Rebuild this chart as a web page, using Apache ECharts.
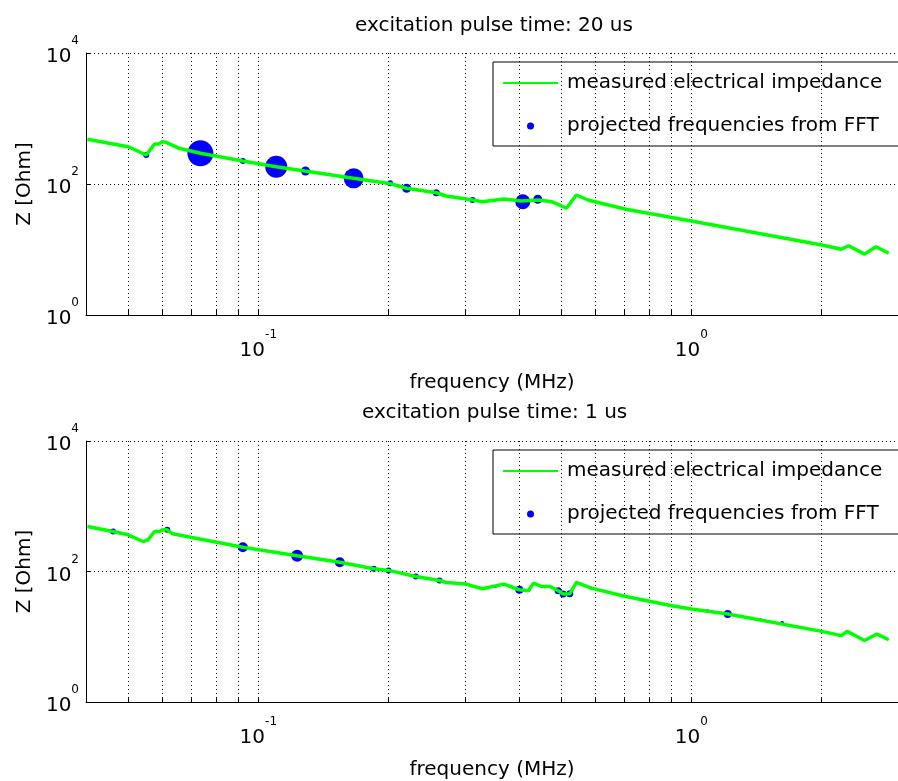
<!DOCTYPE html>
<html><head><meta charset="utf-8">
<script src="https://cdn.jsdelivr.net/npm/echarts@6/dist/echarts.min.js"></script>
<style>html,body{margin:0;padding:0;background:#fff}#c{width:898px;height:781px}</style>
</head><body><div id="c"></div>
<script>
// ---- data ----
const topTitle = 'excitation pulse time: 20 us';
const bottomTitle = 'excitation pulse time: 1 us';
const lineName = 'measured electrical impedance';
const fftName = 'projected frequencies from FFT';
const xAxisName = 'frequency (MHz)';
const yAxisName = 'Z [Ohm]';
const xTickValues = [0.05,0.06,0.07,0.08,0.09,0.1,0.2,0.3,0.4,0.5,0.6,0.7,0.8,0.9,1,2];
const xLabelValues = [0.1, 1];
const yTickValues = [1, 100, 10000];

const topFreq = [0.0403,0.0500,0.0551,0.0576,0.0589,0.0601,0.0612,0.0657,0.0735,0.0921,0.110,0.128,0.166,0.202,0.220,0.2576,0.2715,0.3124,0.3293,0.3688,0.405,0.4433,0.4757,0.5147,0.5425,0.5768,0.7058,1.0,2.0,2.22,2.307,2.509,2.669,2.857];
const topZ = [481,371,277,408,408,442,433,351,294,224,184,158,122,101,86,73.6,65.6,57.0,53.7,59.0,55.0,57.0,53.7,42.6,67.9,57.0,41.1,27.2,11.7,10.1,11.4,8.5,11.0,8.75];
const topFftFreq = [0.0551,0.0735,0.0921,0.110,0.1285,0.166,0.2015,0.220,0.2576,0.3124,0.35,0.408,0.4418];
const topFftZ = [277,294,224,184,158,122,102.5,86,73.6,57,55.6,53.7,58.4];
const topFftMag = [6,26,6,22,9,20,6,9,7,6,3,15,9];

const bottomFreq = [0.0403,0.0462,0.0500,0.0542,0.0556,0.0576,0.0591,0.0601,0.0616,0.0634,0.0698,0.0921,0.1229,0.1542,0.1847,0.1999,0.231,0.262,0.2715,0.3017,0.3293,0.3688,0.4006,0.4207,0.4319,0.4514,0.4715,0.4925,0.5056,0.5238,0.5425,0.5871,0.7058,0.9016,1.0,1.213,2.0,2.22,2.291,2.509,2.683,2.857];
const bottomZ = [489,410,365,288,306,410,410,435,435,378,336,236,174,139,110,104,83.8,72.8,67.9,64.1,54.3,64.1,52.5,50.6,66.4,58.9,58.9,50.6,45.1,45.5,67.9,55.7,41.4,29.8,26.6,22.3,12.1,10.4,12.1,8.78,11.0,9.0];
const bottomFftFreq = [0.0462,0.0616,0.0921,0.1229,0.1542,0.1847,0.1999,0.231,0.262,0.3532,0.4006,0.4925,0.5056,0.5238,0.5871,0.9016,1.092,1.213,1.445,1.620,1.752,2.2];
const bottomFftZ = [410,435,236,174,139,110,104,83.8,72.8,58.9,52.5,50.6,45.1,45.5,55.7,29.8,25.0,22.3,18.2,16.2,14.4,10.5];
const bottomFftMag = [6,6,10,12,10,6,6,6,6,3,8,7,7,7,3,3,3,8,3,4,3,3];

// ---- chart ----
const FONT = 'DejaVu Sans';
const zip = (a, b) => a.map((v, i) => [v, b[i]]);
const zip3 = (a, b, c) => a.map((v, i) => [v, b[i], c[i]]);
const powFmt = v => '{b|10}{e|' + Math.round(Math.log10(v)) + '}';
const rich = {
  b: {fontSize: 20, fontFamily: FONT, color: '#000', verticalAlign: 'bottom', padding: [12, 0, 4, 0]},
  e: {fontSize: 12, fontFamily: FONT, color: '#000', verticalAlign: 'top'}
};
const gridLine = {show: true, lineStyle: {color: '#000', type: [1, 3], width: 1}};

function xAxis(i) {
  return {
    type: 'log', logBase: 10, gridIndex: i, min: 0.04, max: 3,
    axisLine: {show: true, lineStyle: {color: '#000', width: 1}},
    axisTick: {show: true, inside: true, length: 5, customValues: xTickValues, lineStyle: {color: '#000'}},
    axisLabel: {customValues: xLabelValues, formatter: powFmt, rich: rich, margin: 14},
    splitLine: gridLine,
    name: xAxisName, nameLocation: 'middle', nameGap: 58,
    nameTextStyle: {fontSize: 20, fontFamily: FONT, color: '#000'}
  };
}
function yAxis(i) {
  return {
    type: 'log', logBase: 10, gridIndex: i, min: 1, max: 10000,
    axisLine: {show: true, lineStyle: {color: '#000', width: 1}},
    axisTick: {show: true, inside: true, length: 5, customValues: yTickValues, lineStyle: {color: '#000'}},
    axisLabel: {customValues: yTickValues, formatter: powFmt, rich: rich, margin: 7},
    splitLine: gridLine,
    name: yAxisName, nameLocation: 'middle', nameGap: 50,
    nameTextStyle: {fontSize: 20, fontFamily: FONT, color: '#000'}
  };
}
function legend(top) {
  return {
    left: 493, top: top, orient: 'vertical', selectedMode: false,
    borderColor: '#000', borderWidth: 1, padding: [11, 40, 10, 9],
    itemWidth: 55, itemHeight: 7, itemGap: 23,
    textStyle: {fontSize: 20, fontFamily: FONT, color: '#000', padding: [0, 0, 0, 4]},
    data: [{name: lineName, itemStyle: {opacity: 0}}, fftName]
  };
}
function lineSeries(i, f, z) {
  return {name: lineName, type: 'line', xAxisIndex: i, yAxisIndex: i, data: zip(f, z),
    symbol: 'none', lineStyle: {color: '#00ff00', width: 3.5}, itemStyle: {color: 'rgba(0,255,0,0)'}};
}
function fftSeries(i, f, z, m) {
  return {name: fftName, type: 'scatter', xAxisIndex: i, yAxisIndex: i, data: zip3(f, z, m),
    symbol: 'circle', symbolSize: v => v[2], itemStyle: {color: '#0000ff', opacity: 1}};
}

const chart = echarts.init(document.getElementById('c'), null, {renderer: 'canvas'});
chart.setOption({
  animation: false,
  textStyle: {fontFamily: FONT},
  title: [
    {text: topTitle, left: 355, top: 16, padding: 0, textStyle: {fontSize: 20, fontWeight: 'normal', fontFamily: FONT, color: '#000'}},
    {text: bottomTitle, left: 362, top: 403, padding: 0, textStyle: {fontSize: 20, fontWeight: 'normal', fontFamily: FONT, color: '#000'}}
  ],
  grid: [
    {left: 86, top: 53, width: 821, height: 262},
    {left: 86, top: 441, width: 821, height: 261}
  ],
  xAxis: [xAxis(0), xAxis(1)],
  yAxis: [yAxis(0), yAxis(1)],
  legend: [legend(62), legend(450)],
  series: [
    lineSeries(0, topFreq, topZ),
    fftSeries(0, topFftFreq, topFftZ, topFftMag),
    lineSeries(1, bottomFreq, bottomZ),
    fftSeries(1, bottomFftFreq, bottomFftZ, bottomFftMag)
  ]
});
</script></body></html>
